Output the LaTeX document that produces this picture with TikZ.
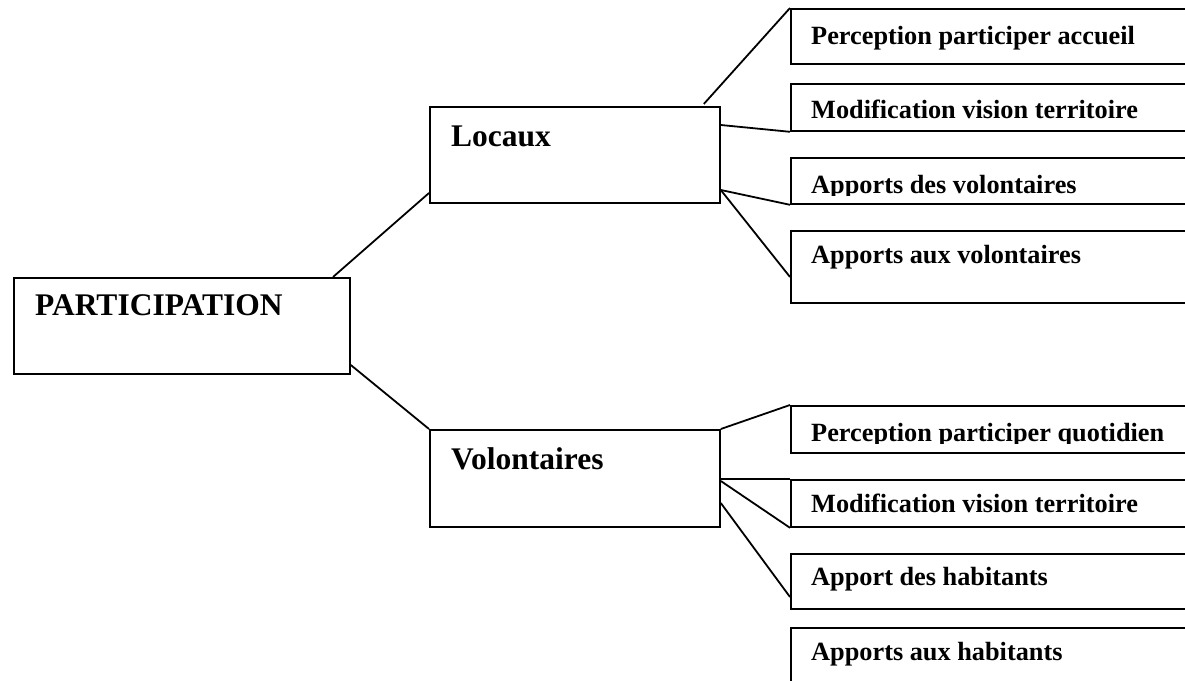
\documentclass[tikz,border=0pt]{standalone}
\usepackage{fontspec}
\setmainfont{Liberation Serif}
\usetikzlibrary{calc}
\tikzset{
  box/.style={draw, line width=1.8pt, rectangle, inner sep=0pt, anchor=north west},
  bigtxt/.style={font=\fontsize{31.5}{34}\selectfont\bfseries, inner sep=0pt, anchor=base west},
  smalltxt/.style={font=\fontsize{26.3}{29}\selectfont\bfseries, inner sep=0pt, anchor=base west},
  link/.style={line width=1.8pt},
  leaf/.style={box, minimum width=430pt}
}
\begin{document}
\begin{tikzpicture}[x=1pt,y=-1pt]
\useasboundingbox (0,0) rectangle (1185,680);
\clip (0,0) rectangle (1185,680);

% root and the two branches
\node[box, minimum width=336pt, minimum height=96pt] (p) at (13,277) {};
\node[bigtxt] (pt) at ($(p.north west)+(22,38)$) {PARTICIPATION};
\node[box, minimum width=290pt, minimum height=96pt] (l) at (429,106) {};
\node[bigtxt] (lt) at ($(l.north west)+(22,40)$) {Locaux};
\node[box, minimum width=290pt, minimum height=97pt] (v) at (429,429) {};
\node[bigtxt] (vt) at ($(v.north west)+(22,40)$) {Volontaires};

% leaves of the first branch
\node[leaf, minimum height=55pt] (r1) at (790,8) {};
\node[smalltxt] (r1t) at ($(r1.north west)+(21,36)$) {Perception participer accueil};
\node[leaf, minimum height=47pt] (r2) at (790,83) {};
\node[smalltxt] (r2t) at ($(r2.north west)+(21,35)$) {Modification vision territoire};
\node[leaf, minimum height=46pt] (r3) at (790,157) {};
\begin{scope}
  \clip (790,150) rectangle (1185,195);
  \node[smalltxt] (r3t) at ($(r3.north west)+(21,36)$) {Apports des volontaires};
\end{scope}
\node[leaf, minimum height=72pt] (r4) at (790,230) {};
\node[smalltxt] (r4t) at ($(r4.north west)+(21,33)$) {Apports aux volontaires};

% leaves of the second branch
\node[leaf, minimum height=47pt] (r5) at (790,405) {};
\begin{scope}
  \clip (790,400) rectangle (1185,443);
  \node[smalltxt] (r5t) at ($(r5.north west)+(21,36)$) {Perception participer quotidien};
\end{scope}
\node[leaf, minimum height=47pt] (r6) at (790,479) {};
\node[smalltxt] (r6t) at ($(r6.north west)+(21,33)$) {Modification vision territoire};
\node[leaf, minimum height=55pt] (r7) at (790,553) {};
\node[smalltxt] (r7t) at ($(r7.north west)+(21,32)$) {Apport des habitants};
\node[leaf, minimum height=70pt] (r8) at (790,627) {};
\node[smalltxt] (r8t) at ($(r8.north west)+(21,33)$) {Apports aux habitants};

% connectors
\draw[link] ($(p.north west)+(320,0)$) -- ($(l.north west)+(0,87)$);
\draw[link] ($(p.north east)+(0,88)$) -- (v.north west);
\draw[link] ($(l.north east)+(-17,-2)$) -- (r1.north west);
\draw[link] ($(l.north east)+(0,19)$) -- (r2.south west);
\draw[link] ($(l.north east)+(0,84)$) -- (r3.south west);
\draw[link] ($(l.north east)+(0,84)$) -- ($(r4.north west)+(0,47)$);
\draw[link] (v.north east) -- (r5.north west);
\draw[link] ($(v.north east)+(0,50)$) -- (r6.north west);
\draw[link] ($(v.north east)+(0,52)$) -- (r6.south west);
\draw[link] ($(v.north east)+(0,74)$) -- ($(r7.north west)+(0,44)$);
\end{tikzpicture}
\end{document}
